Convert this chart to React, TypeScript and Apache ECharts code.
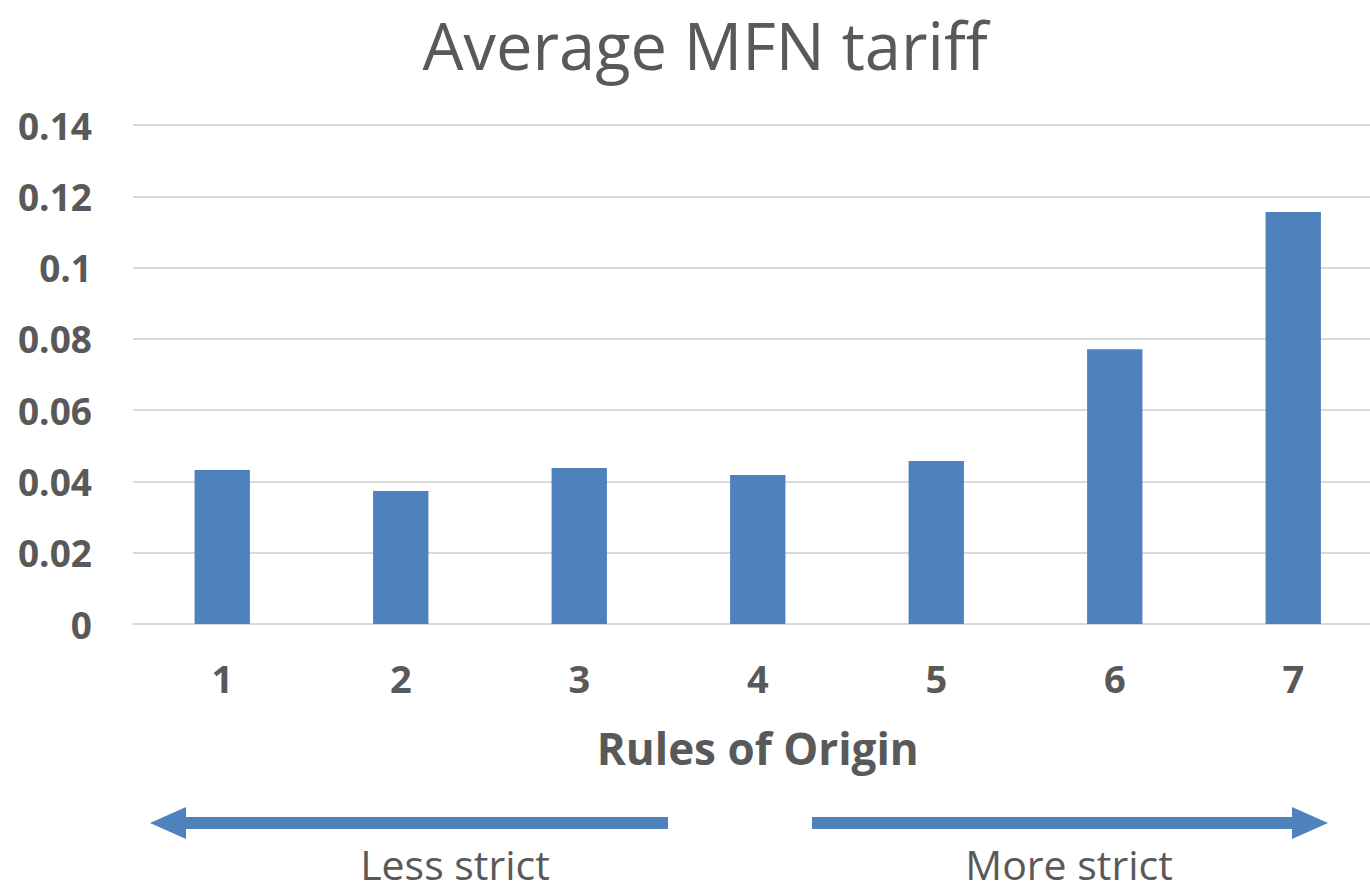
import React, { useEffect, useRef } from "react";
import * as echarts from "echarts";

const categories = ["1", "2", "3", "4", "5", "6", "7"];
const tariffValues = [0.0432, 0.0373, 0.0438, 0.0418, 0.0457, 0.0771, 0.1156];
const yTicks = { min: 0, max: 0.14, interval: 0.02 };
const titleText = "Average MFN tariff";
const xAxisTitle = "Rules of Origin";
const arrowLabels = ["Less strict", "More strict"];

const FONT = "'Open Sans', 'Noto Sans', sans-serif";
const TEXT = "#595959";
const BLUE = "#4f81bd";

export default function App() {
  const ref = useRef<HTMLDivElement>(null);
  useEffect(() => {
    if (!ref.current) return;
    const chart = echarts.init(ref.current, undefined, { renderer: "svg" });
    const arrowY = 823;
    chart.setOption({
      animation: false,
      backgroundColor: "#ffffff",
      grid: { left: 133, top: 125, width: 1249.5, height: 499, outerBoundsMode: "none", containLabel: false },
      xAxis: {
        type: "category",
        data: categories,
        axisLine: { show: true, lineStyle: { color: "#d9d9d9", width: 2 } },
        axisTick: { show: false },
        axisLabel: {
          margin: 35,
          fontFamily: FONT,
          fontSize: 38,
          fontWeight: "bold",
          color: TEXT,
        },
        name: xAxisTitle,
        nameLocation: "middle",
        nameGap: 102,
        nameTextStyle: { fontFamily: FONT, fontSize: 44, fontWeight: "bold", color: TEXT },
      },
      yAxis: {
        type: "value",
        min: yTicks.min,
        max: yTicks.max,
        interval: yTicks.interval,
        axisLine: { show: false },
        axisTick: { show: false },
        splitLine: { lineStyle: { color: "#d9d9d9", width: 2 } },
        axisLabel: {
          margin: 41,
          fontFamily: FONT,
          fontSize: 37,
          fontWeight: "bold",
          color: TEXT,
          formatter: (v: number) => String(+v.toFixed(2)),
        },
      },
      series: [
        {
          type: "bar",
          data: tariffValues,
          barWidth: "31%",
          itemStyle: { color: BLUE },
        },
      ],
      graphic: [
        {
          type: "text",
          x: 705,
          y: 45,
          style: {
            text: titleText,
            font: `65px ${FONT}`,
            fill: TEXT,
            align: "center",
            verticalAlign: "middle",
          },
        },
        {
          type: "rect",
          shape: { x: 182, y: arrowY - 6, width: 486, height: 12 },
          style: { fill: BLUE },
        },
        {
          type: "polygon",
          shape: { points: [[150, arrowY], [186, arrowY - 16], [186, arrowY + 16]] },
          style: { fill: BLUE },
        },
        {
          type: "rect",
          shape: { x: 812, y: arrowY - 6, width: 484, height: 12 },
          style: { fill: BLUE },
        },
        {
          type: "polygon",
          shape: { points: [[1328, arrowY], [1292, arrowY - 16], [1292, arrowY + 16]] },
          style: { fill: BLUE },
        },
        {
          type: "text",
          x: 455,
          y: 864,
          style: {
            text: arrowLabels[0],
            font: `41px ${FONT}`,
            fill: TEXT,
            align: "center",
            verticalAlign: "middle",
          },
        },
        {
          type: "text",
          x: 1069,
          y: 864,
          style: {
            text: arrowLabels[1],
            font: `41px ${FONT}`,
            fill: TEXT,
            align: "center",
            verticalAlign: "middle",
          },
        },
      ],
    });
    return () => chart.dispose();
  }, []);
  return (
    <div
      ref={ref}
      style={{ position: "absolute", left: 0, top: 0, width: 1370, height: 893 }}
    />
  );
}
